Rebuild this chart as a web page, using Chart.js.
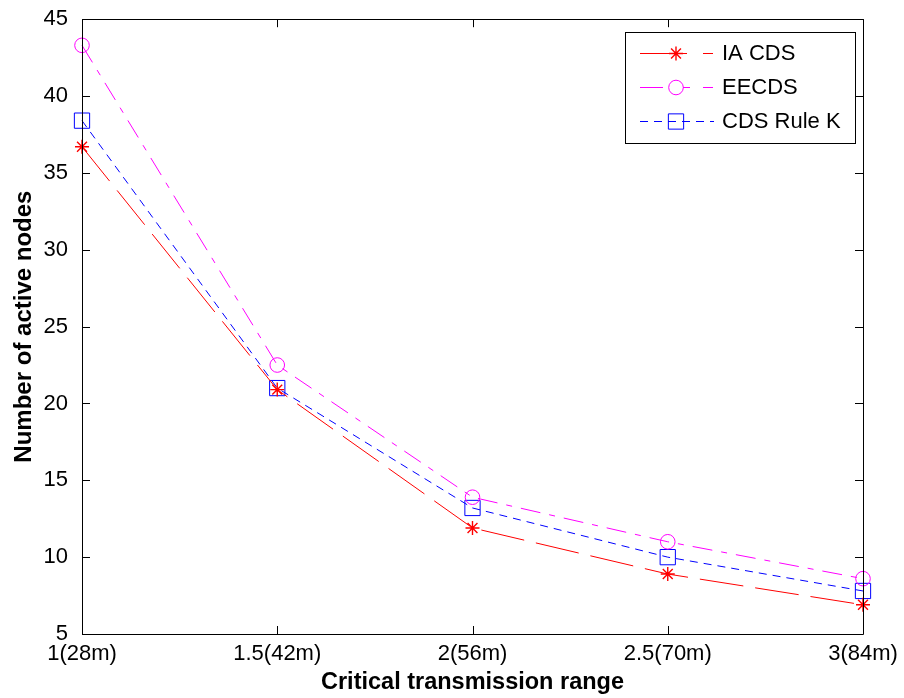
<!DOCTYPE html>
<html>
<head>
<meta charset="utf-8">
<script src="https://cdn.jsdelivr.net/npm/chart.js@4/dist/chart.umd.min.js"></script>
<style>
html,body{margin:0;padding:0;background:#fff;}
#c{display:block;}
</style>
</head>
<body>
<canvas id="c" width="904" height="698"></canvas>
<script>
const categories = ['1(28m)', '1.5(42m)', '2(56m)', '2.5(70m)', '3(84m)'];
const iaCds = [36.7, 20.9, 11.9, 8.9, 6.9];
const eecds = [43.3, 22.5, 13.9, 11.0, 8.6];
const cdsRuleK = [38.4, 21.0, 13.2, 10.0, 7.8];
const yTicks = [5, 10, 15, 20, 25, 30, 35, 40, 45];

const FONT = "'Liberation Sans', Arial, sans-serif";

const frameTicks = {
  id: 'frameTicks',
  afterDatasetsDraw(chart) {
    const {ctx, chartArea: a, scales: {x, y}} = chart;
    ctx.save();
    ctx.strokeStyle = '#000';
    ctx.lineWidth = 1;
    ctx.setLineDash([]);
    ctx.beginPath();
    ctx.rect(Math.round(a.left) + 0.5, Math.round(a.top) + 0.5, Math.round(a.right - a.left), Math.round(a.bottom - a.top));
    ctx.stroke();
    const L = 8;
    ctx.beginPath();
    yTicks.forEach(v => {
      const py = Math.round(y.getPixelForValue(v)) + 0.5;
      ctx.moveTo(a.left, py); ctx.lineTo(a.left + L, py);
      ctx.moveTo(a.right, py); ctx.lineTo(a.right - L, py);
    });
    categories.forEach((c, i) => {
      const px = Math.round(x.getPixelForValue(i)) + 0.5;
      ctx.moveTo(px, a.bottom); ctx.lineTo(px, a.bottom - L);
      ctx.moveTo(px, a.top); ctx.lineTo(px, a.top + L);
    });
    ctx.stroke();
    ctx.restore();
  }
};

const customLegend = {
  id: 'customLegend',
  afterDraw(chart) {
    const {ctx} = chart;
    const bx = 625, by = 32, bw = 230, bh = 111;
    ctx.save();
    ctx.fillStyle = '#fff';
    ctx.fillRect(bx, by, bw, bh);
    ctx.strokeStyle = '#000';
    ctx.lineWidth = 1;
    ctx.setLineDash([]);
    ctx.strokeRect(bx + 0.5, by + 0.5, bw, bh);
    const rows = [53, 87, 121];
    chart.data.datasets.forEach((ds, i) => {
      const ry = rows[i] + 0.5;
      ctx.strokeStyle = ds.borderColor;
      ctx.lineWidth = ds.borderWidth;
      ctx.setLineDash(ds.legendDash || ds.borderDash || []);
      ctx.beginPath();
      ctx.moveTo(640, ry); ctx.lineTo(714, ry);
      ctx.stroke();
      ctx.setLineDash([]);
      ctx.lineWidth = ds.pointBorderWidth || 1;
      ctx.strokeStyle = ds.pointBorderColor || ds.borderColor;
      ctx.fillStyle = 'rgba(0,0,0,0)';
      Chart.helpers.drawPoint(ctx, {pointStyle: ds.pointStyle, radius: ds.pointRadius, rotation: 0, borderWidth: ds.pointBorderWidth || 1}, 676, ry);
      ctx.fillStyle = '#000';
      ctx.font = '22px ' + FONT;
      ctx.textBaseline = 'middle';
      ctx.textAlign = 'left';
      ctx.fillText(ds.label, 722, rows[i] + 1);
    });
    ctx.restore();
  }
};

new Chart(document.getElementById('c'), {
  type: 'line',
  data: {
    labels: categories,
    datasets: [
      {
        label: 'IA CDS', data: iaCds,
        borderColor: '#ff0000', borderWidth: 1, borderDash: [44, 12],
        legendDash: [47, 16, 10, 20],
        pointStyle: 'star', pointRadius: 7, pointBorderColor: '#ff0000', pointBorderWidth: 1.4,
        pointBackgroundColor: 'rgba(0,0,0,0)', tension: 0, clip: false
      },
      {
        label: 'EECDS', data: eecds,
        borderColor: '#ff00ff', borderWidth: 1, borderDash: [20, 9, 6, 9],
        legendDash: [23, 20, 7, 13, 10, 10],
        pointStyle: 'circle', pointRadius: 7.3, pointBorderColor: '#ff00ff', pointBorderWidth: 1,
        pointBackgroundColor: 'rgba(0,0,0,0)', tension: 0, clip: false
      },
      {
        label: 'CDS Rule K', data: cdsRuleK,
        borderColor: '#0000ff', borderWidth: 1, borderDash: [8, 6],
        pointStyle: 'rect', pointRadius: 10.8, pointBorderColor: '#0000ff', pointBorderWidth: 1,
        pointBackgroundColor: 'rgba(0,0,0,0)', tension: 0, clip: false
      }
    ]
  },
  options: {
    responsive: false,
    animation: false,
    devicePixelRatio: 1,
    layout: {padding: {left: 0, top: 17, right: 41, bottom: 0}},
    plugins: {legend: {display: false}, tooltip: {enabled: false}},
    scales: {
      x: {
        type: 'category',
        offset: false,
        grid: {display: false},
        border: {display: false},
        ticks: {color: '#000', font: {family: FONT, size: 22}, padding: -1, maxRotation: 0, autoSkip: false},
        title: {display: true, text: 'Critical transmission range', color: '#000',
          font: {family: FONT, size: 23.5, weight: 'bold'}, padding: {top: 0, bottom: 1}},
        afterFit(s) { s.height = 64; }
      },
      y: {
        type: 'linear', min: 5, max: 45,
        grid: {display: false},
        border: {display: false},
        ticks: {color: '#000', font: {family: FONT, size: 22}, padding: 6,
          callback: (v) => yTicks.includes(v) ? String(v) : null, stepSize: 5},
        afterBuildTicks(s) { s.ticks = yTicks.map(v => ({value: v})); },
        title: {display: true, text: 'Number of active nodes', color: '#000',
          font: {family: FONT, size: 24, weight: 'bold'}, padding: {top: 10, bottom: 0}},
        afterFit(s) { s.width = 82; }
      }
    }
  },
  plugins: [frameTicks, customLegend]
});
</script>
</body>
</html>
